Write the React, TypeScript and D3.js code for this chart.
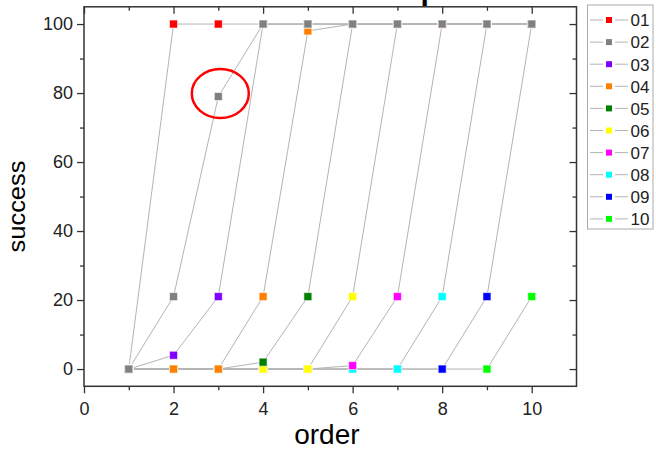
import React, { useEffect, useRef } from "react";
import * as d3 from "d3";

// x values (order) shared by every series
const orders = [1, 2, 3, 4, 5, 6, 7, 8, 9, 10];

const seriesNames = ["01", "02", "03", "04", "05", "06", "07", "08", "09", "10"];
const seriesColors = ["#ff0000", "#808080", "#8000ff", "#ff8000", "#008000",
  "#ffff00", "#ff00ff", "#00ffff", "#0000ff", "#00ff00"];

// success per order, one array per series
const s01 = [0, 100, 100, 100, 100, 100, 100, 100, 100, 100];
const s02 = [0, 21, 79, 100, 100, 100, 100, 100, 100, 100];
const s03 = [0, 4, 21, 100, 100, 100, 100, 100, 100, 100];
const s04 = [0, 0, 0, 21, 98, 100, 100, 100, 100, 100];
const s05 = [0, 0, 0, 2, 21, 100, 100, 100, 100, 100];
const s06 = [0, 0, 0, 0, 0, 21, 100, 100, 100, 100];
const s07 = [0, 0, 0, 0, 0, 1, 21, 100, 100, 100];
const s08 = [0, 0, 0, 0, 0, 0, 0, 21, 100, 100];
const s09 = [0, 0, 0, 0, 0, 0, 0, 0, 21, 100];
const s10 = [0, 0, 0, 0, 0, 0, 0, 0, 0, 21];
const seriesValues = [s01, s02, s03, s04, s05, s06, s07, s08, s09, s10];

// markers are stacked like the original: last series underneath, 02 on top
const markerOrder = [9, 8, 7, 6, 5, 4, 3, 2, 0, 1];

const xMajor = [0, 2, 4, 6, 8, 10];
const xMinor = [1, 3, 5, 7, 9];
const yMajor = [0, 20, 40, 60, 80, 100];
const yMinor = [10, 30, 50, 70, 90];

const W = 656, H = 450;
const FONT = "'Liberation Sans', Arial, Helvetica, sans-serif";

export default function App() {
  const ref = useRef<SVGSVGElement>(null);

  useEffect(() => {
    const svg = d3.select(ref.current);
    svg.selectAll("*").remove();

    const x = d3.scaleLinear().domain([0, 11]).range([84, 576.5]);
    const y = d3.scaleLinear().domain([-5, 105]).range([386.3, 6.8]);
    const top = y(105), bottom = y(-5), left = x(0), right = x(11);

    const styleAxis = (g: any) => {
      g.select(".domain").remove();
      g.selectAll("line").attr("stroke", "#333").attr("stroke-width", 1.3);
      g.selectAll("text").attr("fill", "#222").style("font-family", FONT).style("font-size", "18px");
    };

    // bottom axis
    svg.append("g").attr("transform", `translate(0,${bottom})`)
      .call(d3.axisBottom(x).tickValues(xMajor).tickSize(7).tickPadding(9).tickFormat(d3.format("d")))
      .call(styleAxis);
    svg.append("g").attr("transform", `translate(0,${bottom})`)
      .call(d3.axisBottom(x).tickValues(xMinor).tickSize(4).tickFormat(() => ""))
      .call(styleAxis);
    // top axis, ticks pointing in
    svg.append("g").attr("transform", `translate(0,${top})`)
      .call(d3.axisTop(x).tickValues(xMajor).tickSize(-7).tickFormat(() => ""))
      .call(styleAxis);
    svg.append("g").attr("transform", `translate(0,${top})`)
      .call(d3.axisTop(x).tickValues(xMinor).tickSize(-4).tickFormat(() => ""))
      .call(styleAxis);
    // left axis
    svg.append("g").attr("transform", `translate(${left},0)`)
      .call(d3.axisLeft(y).tickValues(yMajor).tickSize(7).tickPadding(4).tickFormat(d3.format("d")))
      .call(styleAxis);
    svg.append("g").attr("transform", `translate(${left},0)`)
      .call(d3.axisLeft(y).tickValues(yMinor).tickSize(4).tickFormat(() => ""))
      .call(styleAxis);
    // right axis, ticks pointing in
    svg.append("g").attr("transform", `translate(${right},0)`)
      .call(d3.axisRight(y).tickValues(yMajor).tickSize(-7).tickFormat(() => ""))
      .call(styleAxis);
    svg.append("g").attr("transform", `translate(${right},0)`)
      .call(d3.axisRight(y).tickValues(yMinor).tickSize(-4).tickFormat(() => ""))
      .call(styleAxis);

    // frame
    svg.append("rect")
      .attr("x", left).attr("y", top)
      .attr("width", right - left).attr("height", bottom - top)
      .attr("fill", "none").attr("stroke", "#333").attr("stroke-width", 1.5);

    // connecting lines
    const line = d3.line<number>()
      .x((d, i) => x(orders[i]))
      .y((d) => y(d));
    svg.append("g").selectAll("path")
      .data(seriesValues)
      .enter().append("path")
      .attr("d", (d) => line(d))
      .attr("fill", "none")
      .attr("stroke", "#b4b4b4")
      .attr("stroke-width", 1);

    // markers
    const ms = 8;
    markerOrder.forEach((si) => {
      svg.append("g").selectAll("rect")
        .data(seriesValues[si])
        .enter().append("rect")
        .attr("x", (d, i) => x(orders[i]) - ms / 2)
        .attr("y", (d) => y(d) - ms / 2)
        .attr("width", ms).attr("height", ms)
        .attr("fill", seriesColors[si])
        .attr("stroke", "#fff").attr("stroke-opacity", 0.6).attr("stroke-width", 1);
    });

    // red annotation circle around the 02 point at order 3
    svg.append("ellipse")
      .attr("cx", x(orders[2]) + 2).attr("cy", y(s02[2]) - 3)
      .attr("rx", 28.5).attr("ry", 24.5)
      .attr("fill", "none").attr("stroke", "#ff0000").attr("stroke-width", 2.5);

    // axis titles
    svg.append("text")
      .attr("transform", `translate(${(left + x(10)) / 2 + 19},444)`)
      .attr("text-anchor", "middle")
      .style("font-family", FONT).style("font-size", "28px").attr("fill", "#000")
      .text("order");
    svg.append("text")
      .attr("transform", `translate(25,206.5) rotate(-90) scale(1.06,1)`)
      .attr("text-anchor", "middle")
      .style("font-family", FONT).style("font-size", "24px").attr("fill", "#000")
      .text("success");

    // chart title, only its descender shows above the frame
    svg.append("text")
      .attr("x", 420.5).attr("y", 0)
      .style("font-family", FONT).style("font-size", "30px").style("font-weight", "bold")
      .attr("fill", "#000")
      .text("p");

    // legend
    const lg = svg.append("g");
    lg.append("rect")
      .attr("x", 587.5).attr("y", 5).attr("width", 65.5).attr("height", 224)
      .attr("fill", "#fff").attr("stroke", "#aaa").attr("stroke-width", 1);
    const rows = lg.selectAll("g.row")
      .data(seriesNames)
      .enter().append("g")
      .attr("class", "row")
      .attr("transform", (d, i) => `translate(0,${20 + i * 22.1})`);
    rows.append("line").attr("x1", 590).attr("x2", 603).attr("stroke", "#b4b4b4");
    rows.append("line").attr("x1", 615).attr("x2", 628).attr("stroke", "#b4b4b4");
    rows.append("rect")
      .attr("x", 606).attr("y", -3).attr("width", 6).attr("height", 6)
      .attr("fill", (d, i) => seriesColors[i]);
    rows.append("text")
      .attr("x", 630.5).attr("y", 6.3)
      .style("font-family", FONT).style("font-size", "17px").attr("fill", "#222")
      .text((d) => d);
  }, []);

  return (
    <svg ref={ref} width={W} height={H}
      style={{ position: "absolute", left: 0, top: 0, background: "#fff" }} />
  );
}
